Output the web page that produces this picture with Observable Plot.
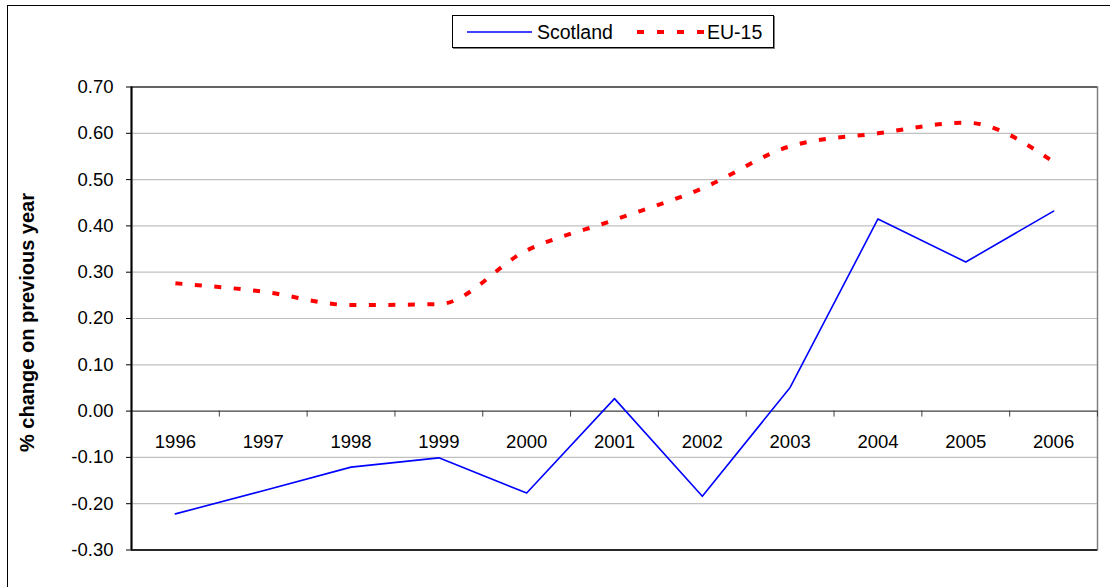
<!DOCTYPE html>
<html>
<head>
<meta charset="utf-8">
<script src="https://cdn.jsdelivr.net/npm/d3@7"></script>
<script src="https://cdn.jsdelivr.net/npm/@observablehq/plot@0.6"></script>
<style>
  html, body { margin: 0; padding: 0; background: #fff; }
  #wrap { position: relative; width: 1110px; height: 587px; overflow: hidden; font-family: "Liberation Sans", Arial, sans-serif; }
  #border { position: absolute; left: 7px; top: 5px; width: 1300px; height: 800px; border-left: 1.5px solid #000; border-top: 1.5px solid #000; }
  #chart { position: absolute; left: 0; top: 0; }
  #legend { position: absolute; left: 452px; top: 15px; width: 320px; height: 31px; border: 1px solid #000; box-shadow: 1px 1px 0 #808080; background: #fff; }
</style>
</head>
<body>
<div id="wrap">
  <div id="border"></div>
  <div id="chart"></div>
  <div id="legend"></div>
</div>
<script>
const years = [1996, 1997, 1998, 1999, 2000, 2001, 2002, 2003, 2004, 2005, 2006];
const scotland = [-0.222, -0.172, -0.121, -0.101, -0.177, 0.027, -0.184, 0.051, 0.415, 0.322, 0.432];
const eu15 = [0.276, 0.258, 0.229, 0.231, 0.347, 0.413, 0.481, 0.572, 0.600, 0.623, 0.538];
const yTicks = [-0.3, -0.2, -0.1, 0, 0.1, 0.2, 0.3, 0.4, 0.5, 0.6, 0.7];
const seriesNames = ["Scotland", "EU-15"];
const yTitle = "% change on previous year";

const W = 1110, H = 587;
const mL = 131, mR = 13, mT = 86.5, mB = 37.5;
const yDomain = [-0.3, 0.7];
const tickLen = 6 * (yDomain[1] - yDomain[0]) / (H - mT - mB);

const scotRows = years.map((y, i) => ({year: y, value: scotland[i]}));
const euRows = years.map((y, i) => ({year: y, value: eu15[i]}));
const boundaries = years.map(y => y + 0.5);

const chart = Plot.plot({
  width: W,
  height: H,
  marginLeft: mL,
  marginRight: mR,
  marginTop: mT,
  marginBottom: mB,
  style: {fontFamily: "Liberation Sans, Arial, sans-serif", fontSize: "18px", color: "#000", background: "transparent"},
  x: {type: "linear", domain: [years[0] - 0.5, years[years.length - 1] + 0.5], axis: null},
  y: {domain: yDomain, axis: null},
  marks: [
    Plot.ruleY(yTicks.filter(t => t !== 0 && t !== yDomain[0]), {y: d => d, stroke: "#c0c0c0", strokeWidth: 1.2}),
    Plot.frame({stroke: "#808080", strokeWidth: 1.5}),
    Plot.ruleY([yDomain[1]], {y: d => d, stroke: "#303030", strokeWidth: 1.2}),
    Plot.ruleY([0], {y: d => d, stroke: "#404040", strokeWidth: 1.3}),
    Plot.ruleX(boundaries, {x: d => d, y1: 0, y2: -tickLen, stroke: "#404040", strokeWidth: 1}),
    Plot.ruleY([yDomain[0]], {y: d => d, stroke: "#000", strokeWidth: 1.5}),
    Plot.ruleX([years[0] - 0.5], {x: d => d, stroke: "#000", strokeWidth: 2}),
    Plot.axisY(yTicks, {
      tickFormat: d => d.toFixed(2),
      tickSize: 5,
      tickPadding: 13,
      fontSize: 18.5,
      stroke: "#000",
      label: null
    }),
    Plot.text(years, {x: d => d, y: 0, dy: 31, text: d => String(d), fontSize: 18.5, fill: "#000"}),
    Plot.line(euRows, {x: "year", y: "value", stroke: "#FF0000", strokeWidth: 4, strokeDasharray: "7,12.5", strokeLinecap: "butt", curve: "monotone-x"}),
    Plot.line(scotRows, {x: "year", y: "value", stroke: "#0000FF", strokeWidth: 1.6}),
    Plot.text([yTitle], {frameAnchor: "left", dx: -104, dy: 4, rotate: -90, textAnchor: "middle", text: d => d, fontWeight: "bold", fontSize: 20, fill: "#000"})
  ]
});
document.getElementById("chart").appendChild(chart);

// legend
const lg = d3.select("#legend").append("svg").attr("width", 320).attr("height", 31)
  .style("font-family", "Liberation Sans, Arial, sans-serif");
lg.append("line").attr("x1", 14).attr("x2", 79).attr("y1", 16).attr("y2", 16)
  .attr("stroke", "#0000FF").attr("stroke-width", 1.6);
lg.append("text").attr("x", 84).attr("y", 16).attr("dy", "0.35em").attr("font-size", 19.5).text(seriesNames[0]);
lg.append("line").attr("x1", 184).attr("x2", 251).attr("y1", 16).attr("y2", 16)
  .attr("stroke", "#FF0000").attr("stroke-width", 4).attr("stroke-dasharray", "7,13");
lg.append("text").attr("x", 254).attr("y", 16).attr("dy", "0.35em").attr("font-size", 19.5).text(seriesNames[1]);
</script>
</body>
</html>
